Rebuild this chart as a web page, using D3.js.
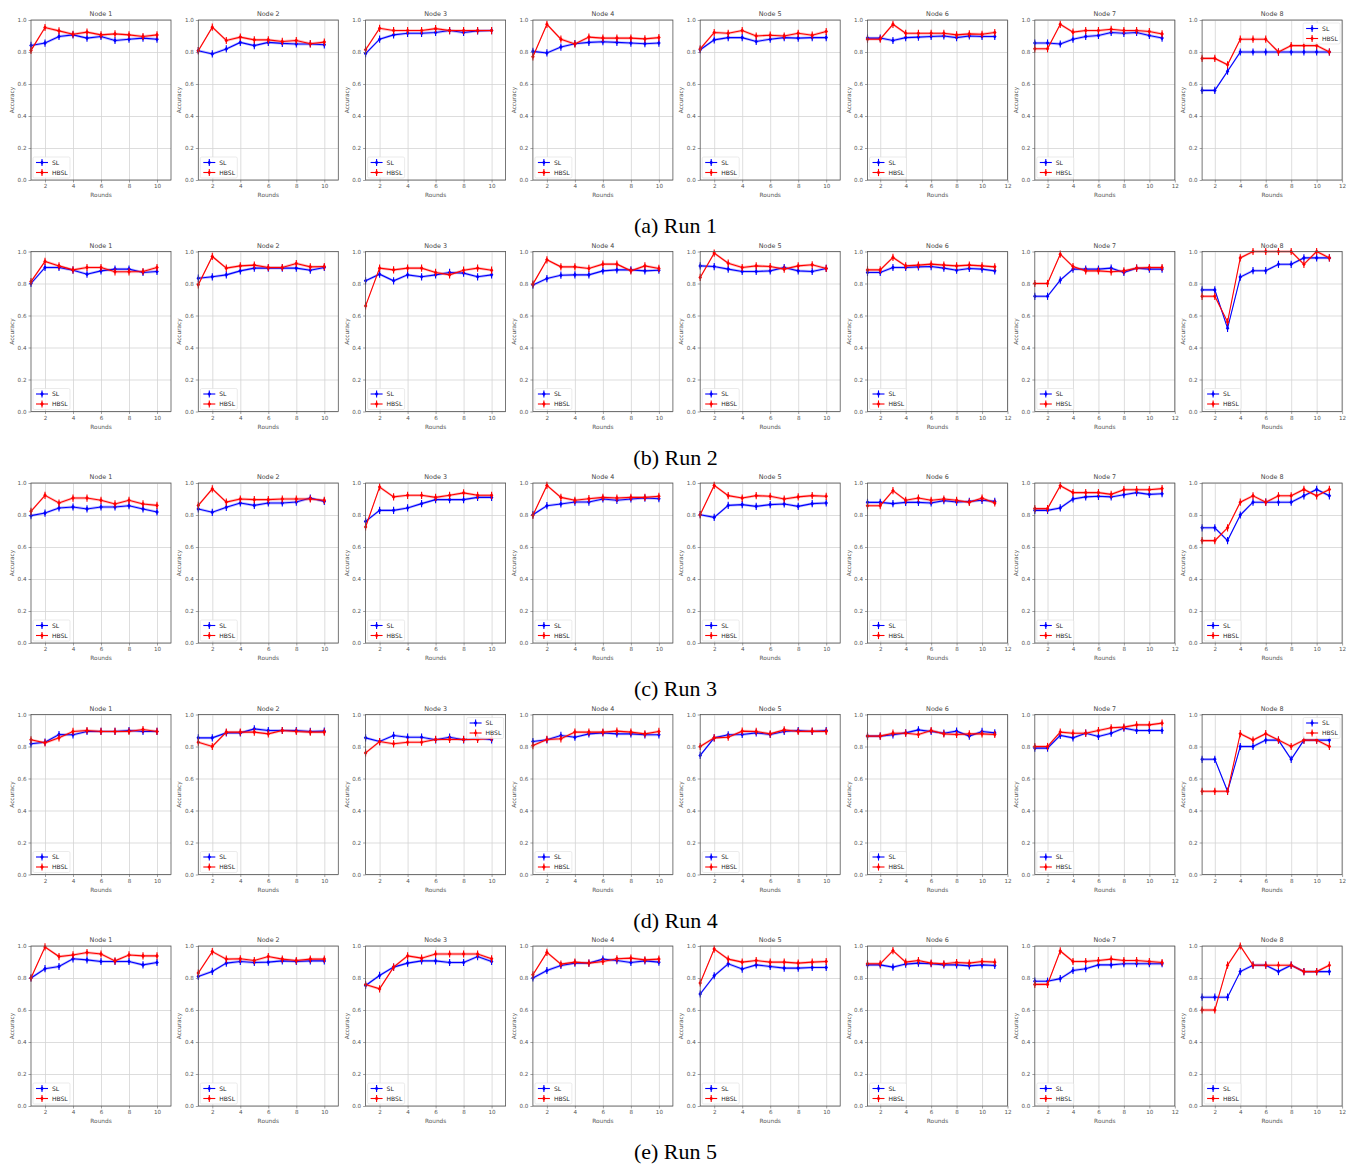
<!DOCTYPE html>
<html>
<head>
<meta charset="utf-8">
<title>SL vs HBSL accuracy per node</title>
<style>
    body { margin: 0; background: #fff; }
    svg text { font-family: "DejaVu Sans", Arial, sans-serif; }
    .tick text { fill: #555; font-size: 5.6px; }
    .caption { font-family: "Liberation Serif", "Times New Roman", serif !important; font-size: 22px; fill: #000; }
</style>
</head>
<body>
<script src="https://d3js.org/d3.v7.min.js"></script>
<script>

var runLabels = ['(a) Run 1', '(b) Run 2', '(c) Run 3', '(d) Run 4', '(e) Run 5'];
var nodeNames = ['Node 1', 'Node 2', 'Node 3', 'Node 4', 'Node 5', 'Node 6', 'Node 7', 'Node 8'];
var seriesNames = ['SL', 'HBSL'];
var yTicks = [0, 0.2, 0.4, 0.6, 0.8, 1.0];

// accuracy per round, one array per node
var sl1 = [
    [0.841, 0.856, 0.897, 0.907, 0.887, 0.897, 0.872, 0.880, 0.887, 0.880],
    [0.808, 0.788, 0.819, 0.860, 0.840, 0.860, 0.854, 0.850, 0.850, 0.845],
    [0.790, 0.880, 0.907, 0.917, 0.917, 0.922, 0.934, 0.922, 0.932, 0.934],
    [0.804, 0.794, 0.831, 0.852, 0.860, 0.864, 0.860, 0.856, 0.852, 0.856],
    [0.814, 0.876, 0.890, 0.890, 0.866, 0.880, 0.890, 0.887, 0.890, 0.890],
    [0.887, 0.887, 0.872, 0.890, 0.893, 0.897, 0.900, 0.890, 0.900, 0.897, 0.897],
    [0.856, 0.856, 0.850, 0.880, 0.897, 0.903, 0.922, 0.917, 0.922, 0.903, 0.887],
    [0.56, 0.56, 0.68, 0.80, 0.80, 0.80, 0.80, 0.80, 0.80, 0.80, 0.80]
];
var hbsl1 = [
    [0.810, 0.953, 0.932, 0.911, 0.924, 0.907, 0.913, 0.907, 0.897, 0.907],
    [0.808, 0.955, 0.872, 0.893, 0.876, 0.876, 0.866, 0.872, 0.852, 0.862],
    [0.814, 0.948, 0.934, 0.934, 0.934, 0.946, 0.934, 0.934, 0.934, 0.934],
    [0.770, 0.973, 0.880, 0.850, 0.893, 0.887, 0.887, 0.887, 0.882, 0.890],
    [0.819, 0.922, 0.917, 0.934, 0.900, 0.905, 0.900, 0.917, 0.905, 0.928],
    [0.880, 0.880, 0.973, 0.917, 0.917, 0.917, 0.917, 0.907, 0.913, 0.911, 0.922],
    [0.820, 0.820, 0.973, 0.924, 0.934, 0.934, 0.942, 0.934, 0.934, 0.928, 0.913],
    [0.76, 0.76, 0.72, 0.88, 0.88, 0.88, 0.80, 0.84, 0.84, 0.84, 0.80]
];
var sl2 = [
    [0.800, 0.900, 0.900, 0.883, 0.858, 0.879, 0.890, 0.890, 0.869, 0.875],
    [0.833, 0.842, 0.854, 0.879, 0.896, 0.896, 0.896, 0.896, 0.883, 0.900],
    [0.817, 0.858, 0.817, 0.854, 0.842, 0.854, 0.869, 0.865, 0.842, 0.854],
    [0.790, 0.831, 0.852, 0.854, 0.854, 0.879, 0.885, 0.885, 0.879, 0.883],
    [0.910, 0.906, 0.890, 0.875, 0.875, 0.879, 0.900, 0.879, 0.875, 0.894],
    [0.869, 0.869, 0.900, 0.900, 0.904, 0.906, 0.896, 0.883, 0.894, 0.890, 0.879],
    [0.72, 0.72, 0.821, 0.890, 0.890, 0.890, 0.896, 0.869, 0.896, 0.890, 0.890],
    [0.76, 0.76, 0.52, 0.84, 0.88, 0.88, 0.92, 0.92, 0.96, 0.96, 0.96]
];
var hbsl2 = [
    [0.812, 0.938, 0.910, 0.885, 0.900, 0.900, 0.873, 0.873, 0.875, 0.900],
    [0.792, 0.969, 0.896, 0.910, 0.915, 0.900, 0.900, 0.925, 0.904, 0.906],
    [0.660, 0.896, 0.885, 0.896, 0.896, 0.869, 0.854, 0.883, 0.896, 0.883],
    [0.796, 0.948, 0.904, 0.904, 0.894, 0.921, 0.921, 0.879, 0.910, 0.894],
    [0.838, 0.990, 0.927, 0.900, 0.910, 0.906, 0.890, 0.910, 0.917, 0.894],
    [0.885, 0.885, 0.963, 0.910, 0.915, 0.921, 0.915, 0.910, 0.915, 0.910, 0.904],
    [0.80, 0.80, 0.983, 0.906, 0.879, 0.879, 0.873, 0.879, 0.896, 0.900, 0.900],
    [0.72, 0.72, 0.56, 0.96, 1.00, 1.00, 1.00, 1.00, 0.92, 1.00, 0.96]
];
var sl3 = [
    [0.796, 0.812, 0.844, 0.850, 0.838, 0.850, 0.850, 0.858, 0.838, 0.819],
    [0.838, 0.817, 0.848, 0.875, 0.860, 0.875, 0.875, 0.881, 0.906, 0.885],
    [0.760, 0.829, 0.829, 0.844, 0.871, 0.896, 0.896, 0.896, 0.910, 0.910],
    [0.802, 0.858, 0.869, 0.881, 0.881, 0.900, 0.892, 0.900, 0.906, 0.902],
    [0.802, 0.785, 0.860, 0.865, 0.854, 0.865, 0.869, 0.854, 0.871, 0.875],
    [0.879, 0.879, 0.871, 0.879, 0.879, 0.875, 0.890, 0.881, 0.885, 0.892, 0.885],
    [0.829, 0.829, 0.844, 0.900, 0.913, 0.917, 0.913, 0.927, 0.940, 0.929, 0.933],
    [0.72, 0.72, 0.64, 0.80, 0.88, 0.88, 0.88, 0.88, 0.92, 0.96, 0.92]
];
var hbsl3 = [
    [0.823, 0.923, 0.875, 0.906, 0.906, 0.892, 0.869, 0.892, 0.869, 0.860],
    [0.860, 0.963, 0.881, 0.900, 0.896, 0.896, 0.900, 0.900, 0.900, 0.892],
    [0.725, 0.975, 0.913, 0.923, 0.923, 0.910, 0.923, 0.938, 0.923, 0.923],
    [0.798, 0.985, 0.910, 0.892, 0.902, 0.910, 0.906, 0.910, 0.910, 0.917],
    [0.802, 0.985, 0.921, 0.906, 0.921, 0.917, 0.900, 0.913, 0.921, 0.917],
    [0.858, 0.858, 0.952, 0.892, 0.906, 0.892, 0.900, 0.892, 0.879, 0.906, 0.875],
    [0.84, 0.84, 0.983, 0.940, 0.940, 0.940, 0.929, 0.958, 0.958, 0.958, 0.965],
    [0.64, 0.64, 0.72, 0.88, 0.92, 0.88, 0.92, 0.92, 0.96, 0.92, 0.96]
];
var sl4 = [
    [0.817, 0.827, 0.875, 0.873, 0.894, 0.894, 0.894, 0.900, 0.894, 0.894],
    [0.854, 0.854, 0.885, 0.885, 0.910, 0.900, 0.900, 0.900, 0.894, 0.896],
    [0.854, 0.831, 0.869, 0.858, 0.858, 0.842, 0.858, 0.842, 0.854, 0.842],
    [0.831, 0.842, 0.869, 0.858, 0.879, 0.885, 0.879, 0.879, 0.873, 0.873],
    [0.744, 0.854, 0.873, 0.875, 0.885, 0.875, 0.894, 0.900, 0.894, 0.900],
    [0.865, 0.865, 0.873, 0.885, 0.904, 0.894, 0.883, 0.896, 0.865, 0.894, 0.885],
    [0.79, 0.79, 0.869, 0.854, 0.883, 0.863, 0.883, 0.915, 0.900, 0.900, 0.900],
    [0.72, 0.72, 0.52, 0.80, 0.80, 0.84, 0.84, 0.72, 0.84, 0.84, 0.84]
];
var hbsl4 = [
    [0.842, 0.823, 0.854, 0.894, 0.900, 0.894, 0.894, 0.894, 0.906, 0.894],
    [0.827, 0.800, 0.890, 0.890, 0.890, 0.879, 0.900, 0.894, 0.890, 0.890],
    [0.760, 0.831, 0.817, 0.827, 0.827, 0.844, 0.844, 0.844, 0.844, 0.852],
    [0.806, 0.844, 0.848, 0.890, 0.890, 0.890, 0.896, 0.890, 0.879, 0.894],
    [0.800, 0.854, 0.858, 0.896, 0.894, 0.879, 0.904, 0.894, 0.896, 0.894],
    [0.865, 0.865, 0.883, 0.883, 0.875, 0.900, 0.879, 0.875, 0.879, 0.879, 0.875],
    [0.80, 0.80, 0.890, 0.883, 0.883, 0.900, 0.917, 0.921, 0.935, 0.935, 0.946],
    [0.52, 0.52, 0.52, 0.88, 0.84, 0.88, 0.84, 0.80, 0.84, 0.84, 0.80]
];
var sl5 = [
    [0.800, 0.858, 0.872, 0.920, 0.913, 0.903, 0.903, 0.903, 0.882, 0.897],
    [0.810, 0.841, 0.893, 0.903, 0.897, 0.899, 0.907, 0.903, 0.907, 0.907],
    [0.753, 0.816, 0.868, 0.893, 0.907, 0.907, 0.897, 0.897, 0.934, 0.903],
    [0.800, 0.847, 0.878, 0.893, 0.893, 0.918, 0.909, 0.897, 0.907, 0.899],
    [0.700, 0.814, 0.889, 0.856, 0.882, 0.872, 0.862, 0.862, 0.866, 0.866],
    [0.882, 0.882, 0.868, 0.887, 0.893, 0.889, 0.882, 0.882, 0.876, 0.882, 0.878],
    [0.78, 0.78, 0.796, 0.847, 0.858, 0.882, 0.882, 0.889, 0.889, 0.889, 0.889],
    [0.68, 0.68, 0.68, 0.84, 0.88, 0.88, 0.84, 0.88, 0.84, 0.84, 0.84]
];
var hbsl5 = [
    [0.800, 0.994, 0.934, 0.944, 0.959, 0.950, 0.907, 0.944, 0.938, 0.938],
    [0.831, 0.965, 0.918, 0.920, 0.909, 0.934, 0.918, 0.909, 0.918, 0.918],
    [0.759, 0.732, 0.868, 0.938, 0.924, 0.950, 0.950, 0.950, 0.950, 0.920],
    [0.820, 0.960, 0.887, 0.899, 0.893, 0.903, 0.920, 0.924, 0.913, 0.918],
    [0.769, 0.981, 0.918, 0.899, 0.909, 0.899, 0.899, 0.893, 0.899, 0.903],
    [0.889, 0.889, 0.971, 0.899, 0.909, 0.893, 0.889, 0.897, 0.893, 0.903, 0.899],
    [0.76, 0.76, 0.969, 0.903, 0.903, 0.909, 0.918, 0.909, 0.909, 0.903, 0.897],
    [0.60, 0.60, 0.88, 1.00, 0.88, 0.88, 0.88, 0.88, 0.84, 0.84, 0.88]
];

var runs = [[sl1, hbsl1], [sl2, hbsl2], [sl3, hbsl3], [sl4, hbsl4], [sl5, hbsl5]];
var colors = ['#0000ff', '#ff0000'];
// panels whose legend sits top right (run index, node index)
var legendTopRight = ['0-7', '3-2', '3-7'];

var W = 1351, H = 1165;
var plotW = 140, plotH = 160;
var colStep = 167.3, rowStep = 231.5;
var left0 = 31, top0 = 20;

var svg = d3.select('body').append('svg')
    .attr('width', W)
    .attr('height', H)
    .attr('viewBox', '0 0 ' + W + ' ' + H);
svg.append('rect').attr('width', W).attr('height', H).attr('fill', '#fff');

var y = d3.scaleLinear().domain([0, 1]).range([plotH, 0]);

runs.forEach(function (run, r) {
    var rowTop = top0 + r * rowStep;

    nodeNames.forEach(function (name, n) {
        var nPts = run[0][n].length;
        var x = d3.scaleLinear().domain([1, nPts + 1]).range([0, plotW]);
        var xTicks = d3.range(2, nPts + 2, 2);

        var g = svg.append('g')
            .attr('transform', 'translate(' + (left0 + n * colStep) + ',' + rowTop + ')');

        // grid
        g.append('g')
            .call(d3.axisBottom(x).tickValues(xTicks).tickSize(plotH).tickFormat(''))
            .call(function (s) {
                s.select('.domain').remove();
                s.selectAll('line').attr('stroke', '#d4d4d4').attr('stroke-width', 0.8);
            });
        g.append('g')
            .call(d3.axisLeft(y).tickValues(yTicks).tickSize(-plotW).tickFormat(''))
            .call(function (s) {
                s.select('.domain').remove();
                s.selectAll('line').attr('stroke', '#d4d4d4').attr('stroke-width', 0.8);
            });

        // axes
        g.append('g')
            .attr('transform', 'translate(0,' + plotH + ')')
            .call(d3.axisBottom(x).tickValues(xTicks).tickSize(2.5).tickPadding(2).tickFormat(d3.format('d')))
            .call(function (s) {
                s.select('.domain').remove();
                s.selectAll('line').attr('stroke', '#666').attr('stroke-width', 0.6);
            });
        g.append('g')
            .call(d3.axisLeft(y).tickValues(yTicks).tickSize(2.5).tickPadding(2).tickFormat(d3.format('.1f')))
            .call(function (s) {
                s.select('.domain').remove();
                s.selectAll('line').attr('stroke', '#666').attr('stroke-width', 0.6);
            });

        // series
        run.forEach(function (series, si) {
            var vals = series[n];
            var c = colors[si];

            var band = d3.area()
                .x(function (d, i) { return x(i + 1); })
                .y0(function (d) { return y(d) + 1.4; })
                .y1(function (d) { return y(d) - 1.4; });
            g.append('path')
                .attr('d', band(vals))
                .attr('fill', c)
                .attr('fill-opacity', 0.25);

            var line = d3.line()
                .x(function (d, i) { return x(i + 1); })
                .y(function (d) { return y(d); });
            g.append('path')
                .attr('d', line(vals))
                .attr('fill', 'none')
                .attr('stroke', c)
                .attr('stroke-width', 1.1);

            var pts = g.append('g').selectAll('g')
                .data(vals)
                .enter().append('g')
                .attr('transform', function (d, i) { return 'translate(' + x(i + 1) + ',' + y(d) + ')'; });
            pts.append('line')
                .attr('y1', -3.6).attr('y2', 3.6)
                .attr('stroke', c).attr('stroke-width', 1.1);
            pts.append('path')
                .attr('d', 'M0,-2.3L1.8,0L0,2.3L-1.8,0Z')
                .attr('fill', c);
        });

        // frame
        g.append('rect')
            .attr('width', plotW).attr('height', plotH)
            .attr('fill', 'none')
            .attr('stroke', '#555')
            .attr('stroke-width', 0.8);

        // labels
        g.append('text')
            .attr('x', plotW / 2).attr('y', -4)
            .attr('text-anchor', 'middle')
            .attr('font-size', 6.4).attr('fill', '#444')
            .text(name);
        g.append('text')
            .attr('x', plotW / 2).attr('y', plotH + 17)
            .attr('text-anchor', 'middle')
            .attr('font-size', 5.8).attr('fill', '#555')
            .text('Rounds');
        g.append('text')
            .attr('transform', 'translate(-17,' + (plotH / 2) + ') rotate(-90)')
            .attr('text-anchor', 'middle')
            .attr('font-size', 5.8).attr('fill', '#555')
            .text('Accuracy');

        // legend
        var topRight = legendTopRight.indexOf(r + '-' + n) >= 0;
        var lw = 37, lh = 21;
        var lg = g.append('g')
            .attr('transform', topRight
                ? 'translate(' + (plotW - lw - 2) + ',3)'
                : 'translate(2,' + (plotH - lh - 2) + ')');
        lg.append('rect')
            .attr('width', lw).attr('height', lh)
            .attr('rx', 1.5)
            .attr('fill', '#fff').attr('fill-opacity', 0.85)
            .attr('stroke', '#ddd').attr('stroke-width', 0.6);
        seriesNames.forEach(function (s, si) {
            var ly = 5.5 + si * 10;
            lg.append('line')
                .attr('x1', 3).attr('x2', 15).attr('y1', ly).attr('y2', ly)
                .attr('stroke', colors[si]).attr('stroke-width', 1.1);
            lg.append('line')
                .attr('x1', 9).attr('x2', 9).attr('y1', ly - 3.6).attr('y2', ly + 3.6)
                .attr('stroke', colors[si]).attr('stroke-width', 1.1);
            lg.append('path')
                .attr('transform', 'translate(9,' + ly + ')')
                .attr('d', 'M0,-2.3L1.8,0L0,2.3L-1.8,0Z')
                .attr('fill', colors[si]);
            lg.append('text')
                .attr('x', 19).attr('y', ly + 2)
                .attr('font-size', 6).attr('fill', '#222')
                .text(s);
        });
    });

    svg.append('text')
        .attr('class', 'caption')
        .attr('x', W / 2).attr('y', rowTop + 213)
        .attr('text-anchor', 'middle')
        .text(runLabels[r]);
});

</script>
</body>
</html>
